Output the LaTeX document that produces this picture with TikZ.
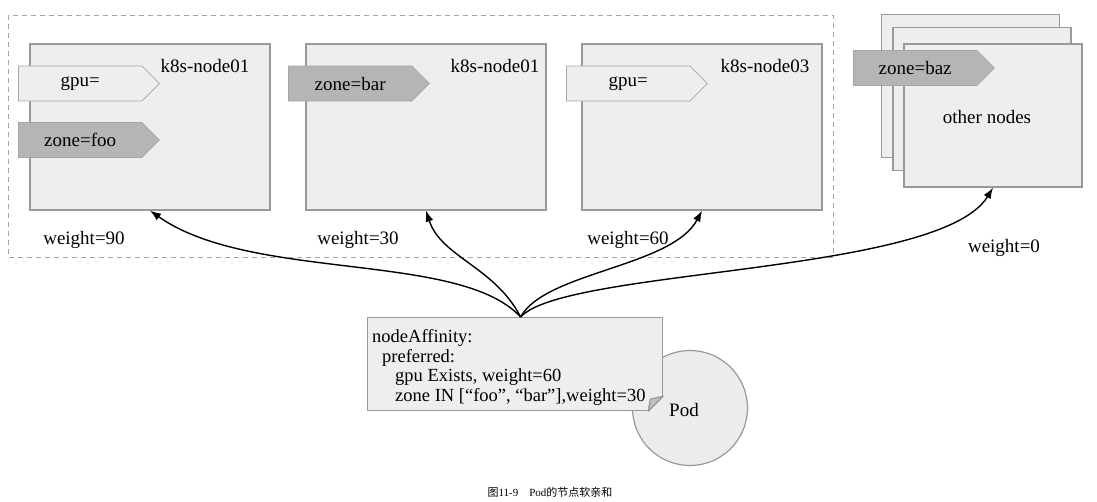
\documentclass[tikz,border=0pt]{standalone}
\usepackage{fontspec}
\setmainfont{Liberation Serif}
\newfontfamily\cjk{Noto Sans CJK SC}
\usetikzlibrary{shapes.symbols,arrows.meta}

\begin{document}
\begin{tikzpicture}[x=1pt, y=-1pt,
    font=\fontsize{19}{22}\selectfont,
    box/.style={draw=gray!80, fill=gray!13, line width=1.2pt, minimum width=240pt, minimum height=166pt, inner sep=0pt},
    stackbox/.style={box, minimum width=178pt, minimum height=143pt},
    tag/.style={signal, signal to=east, signal pointer angle=90, draw=gray!70, line width=0.8pt, minimum width=141pt, minimum height=35pt, inner sep=0pt, anchor=west},
    lighttag/.style={tag, fill=gray!13},
    darktag/.style={tag, fill=gray!58},
    note/.style={draw=gray!80, fill=gray!13, line width=1.2pt, minimum width=295pt, minimum height=93pt, inner sep=0pt, anchor=north west},
    notetext/.style={align=left, anchor=north west, inner sep=0pt, font=\fontsize{18.5}{19.5}\selectfont},
    pod/.style={circle, draw=gray!80, fill=gray!15, line width=1.2pt, minimum size=115pt},
    pref/.style={-{Latex[length=11pt, width=8pt]}, line width=1.4pt}]

      \useasboundingbox (0,0) rectangle (1097,501);

      \draw[gray!70, line width=0.9pt, dash pattern=on 5pt off 4pt] (8,15) rectangle (833,257);

      \node[box] (1) at (150,127) {};
      \node[box] (2) at (426,127) {};
      \node[box] (3) at (702,127) {};

      \node[stackbox] (4c) at (970.5,86) {};
      \node[stackbox] (4b) at (982,99) {};
      \node[stackbox] (4) at (993,115.5) {};

      \node (1t) at (205,66) {k8s-node01};
      \node (2t) at (495,66) {k8s-node01};
      \node (3t) at (765,66) {k8s-node03};
      \node (4t) at (987,117) {other nodes};

      \node[lighttag] (1g) at (18,83.5) {gpu=};
      \node[darktag] (1z) at (18,140) {zone=foo};
      \node[darktag] (2z) at (288,83.5) {zone=bar};
      \node[lighttag] (3g) at (566,83.5) {gpu=};
      \node[darktag] (4z) at (853,68) {zone=baz};

      \node (1w) at (84,240) {weight=90};
      \node (2w) at (358,240) {weight=30};
      \node (3w) at (628,240) {weight=60};
      \node (4w) at (1004,248) {weight=0};

      \node[pod] (6) at (690,408) {};
      \node (6t) at (684,410) {Pod};
      \node[note] (5) at (367,317) {};
      \node[notetext] (5t) at (372,329.5) {nodeAffinity:\\
        \hspace*{10pt}preferred:\\
        \hspace*{23pt}gpu Exists, weight=60\\
        \hspace*{23pt}zone IN [“foo”, “bar”],weight=30};
      \fill[gray!15] ([xshift=-15pt]5.south east) -- ([xshift=2pt,yshift=-2pt]5.south east) -- ([yshift=15pt]5.south east) -- cycle;
      \draw[gray!80, line width=1.2pt, fill=gray!50, line join=round] ([xshift=-15pt]5.south east) -- ([yshift=15pt]5.south east) -- ([xshift=-13pt,yshift=12pt]5.south east) -- cycle;

      \coordinate (7) at ([xshift=5.5pt]5.north);

      \draw[pref] (7) .. controls (460,251) and (251,282) .. (1.south);
      \draw[pref] (7) .. controls (495,267) and (441,257) .. (2.south);
      \draw[pref] (7) .. controls (545,272) and (672,267) .. (3.south);
      \draw[pref] (7) .. controls (565,268) and (940,275) .. (4.south);

      \node (c) at (550,492) {\fontsize{11}{13}\selectfont{\cjk 图}11-9\quad Pod{\cjk 的节点软亲和}};

    \end{tikzpicture}
\end{document}
